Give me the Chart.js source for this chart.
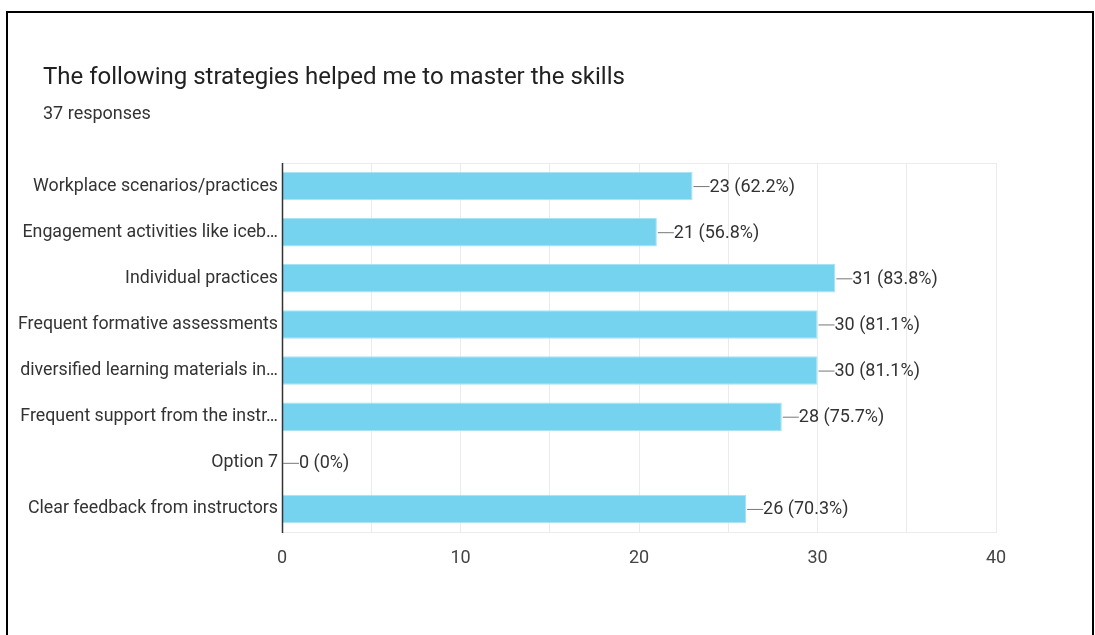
<!DOCTYPE html>
<html>
<head>
<meta charset="utf-8">
<script src="https://cdn.jsdelivr.net/npm/chart.js@4/dist/chart.umd.min.js"></script>
<style>
  html, body { margin: 0; padding: 0; background: #fff; }
  #wrap { position: relative; width: 1095px; height: 635px; }
</style>
</head>
<body>
<div id="wrap"><canvas id="chart" width="1095" height="635"></canvas></div>
<script>
const TOTAL = 37;
const categories = [
  "Workplace scenarios/practices",
  "Engagement activities like iceb\u2026",
  "Individual practices",
  "Frequent formative assessments",
  "diversified learning materials in\u2026",
  "Frequent support from the instr\u2026",
  "Option 7",
  "Clear feedback from instructors"
];
const counts = [23, 21, 31, 30, 30, 28, 0, 26];
const xTicks = [0, 10, 20, 30, 40];

const titleText = "The following strategies helped me to master the skills";
const subtitleText = TOTAL + " responses";

function pct(v) {
  const p = v / TOTAL * 100;
  return v === 0 ? "0%" : p.toFixed(1) + "%";
}

// frame, title, box around plot area and bar labels
const decor = {
  id: 'decor',
  beforeDraw(chart) {
    const ctx = chart.ctx;
    ctx.save();
    ctx.fillStyle = '#fff';
    ctx.fillRect(0, 0, chart.width, chart.height);
    ctx.strokeStyle = '#000';
    ctx.lineWidth = 2;
    ctx.beginPath();
    ctx.moveTo(7, 640);
    ctx.lineTo(7, 12);
    ctx.lineTo(1093, 12);
    ctx.lineTo(1093, 640);
    ctx.stroke();

    ctx.fillStyle = '#212121';
    ctx.font = '24px Roboto';
    ctx.textBaseline = 'alphabetic';
    ctx.fillText(titleText, 43, 84);
    ctx.fillStyle = '#333';
    ctx.font = '18px Roboto';
    ctx.fillText(subtitleText, 43, 119);
    ctx.restore();
  },
  beforeDatasetsDraw(chart) {
    const a = chart.chartArea, ctx = chart.ctx;
    ctx.save();
    ctx.strokeStyle = '#ebebeb';
    ctx.lineWidth = 1;
    ctx.strokeRect(a.left + 0.5, a.top + 0.5, a.right - a.left, a.bottom - a.top);
    ctx.restore();
  },
  afterDatasetsDraw(chart) {
    const ctx = chart.ctx, a = chart.chartArea;
    ctx.save();
    ctx.strokeStyle = '#333';
    ctx.lineWidth = 1.5;
    ctx.beginPath();
    ctx.moveTo(a.left + 0.5, a.top);
    ctx.lineTo(a.left + 0.5, a.bottom + 1);
    ctx.stroke();

    const meta = chart.getDatasetMeta(0);
    ctx.font = '18px Roboto';
    ctx.textBaseline = 'middle';
    meta.data.forEach((bar, i) => {
      const x = bar.x, y = bar.y;
      ctx.strokeStyle = '#777';
      ctx.lineWidth = 1;
      ctx.beginPath();
      ctx.moveTo(x + 1, y + 0.5);
      ctx.lineTo(x + 17, y + 0.5);
      ctx.stroke();
      ctx.fillStyle = '#333';
      ctx.fillText(counts[i] + ' (' + pct(counts[i]) + ')', x + 17, y + 1);
    });
    ctx.restore();
  }
};

new Chart(document.getElementById('chart'), {
  type: 'bar',
  data: {
    labels: categories,
    datasets: [{
      data: counts,
      backgroundColor: '#76d3ef',
      borderColor: '#a6e3f5',
      borderWidth: 1,
      categoryPercentage: 0.62,
      barPercentage: 1
    }]
  },
  options: {
    indexAxis: 'y',
    responsive: false,
    animation: false,
    devicePixelRatio: 1,
    layout: { padding: { top: 163, right: 99, bottom: 63, left: 0 } },
    plugins: {
      legend: { display: false },
      tooltip: { enabled: false }
    },
    scales: {
      x: {
        min: 0,
        max: 40,
        ticks: {
          stepSize: 5,
          autoSkip: false,
          maxRotation: 0,
          color: '#444',
          font: { family: 'Roboto', size: 18 },
          padding: 16,
          callback: v => xTicks.includes(v) ? String(v) : ''
        },
        grid: { color: '#ebebeb', drawTicks: false },
        border: { display: false },
        afterFit: s => { s.height = 40; }
      },
      y: {
        ticks: {
          color: '#333',
          font: { family: 'Roboto', size: 17.8 },
          padding: 4
        },
        grid: { display: false, drawTicks: false },
        border: { display: false },
        afterFit: s => { s.width = 282; }
      }
    }
  },
  plugins: [decor]
});
</script>
</body>
</html>
